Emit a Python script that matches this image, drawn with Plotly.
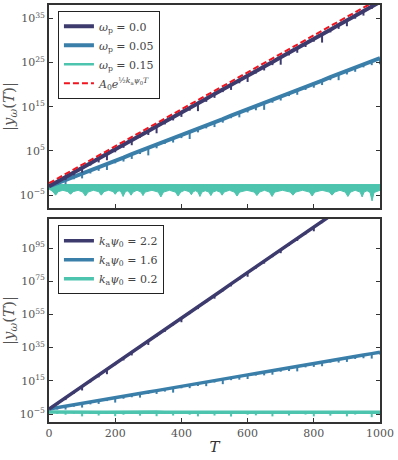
import plotly.graph_objects as go
import numpy as np

# time grid shared by the line series (T = 0, 25, ..., 1000)
T_grid = list(range(0, 1001, 25))

# ---- top panel: log10 |y_w(T)| for different omega_p ----
top_w00 = [-3.0, -2.0, -0.9, 0.1, 1.2, 2.2, 3.3, 4.3, 5.3, 6.4, 7.4, 8.5, 9.5, 10.6,
           11.6, 12.6, 13.7, 14.7, 15.8, 16.8, 17.9, 18.9, 19.9, 21.0, 22.0, 23.1,
           24.1, 25.1, 26.2, 27.2, 28.3, 29.3, 30.4, 31.4, 32.4, 33.5, 34.5, 35.6,
           36.6, 37.7, 38.7]
top_w00_dip = [0, 0.4, 0.7, 0.6, 1.1, 0.5, 0.9, 1.4, 0.6, 0.7, 1.1, 0.5, 0.9, 1.6,
               0.6, 0.7, 1.0, 0.6, 1.8, 0.7, 0.9, 0.6, 1.1, 0.7, 1.4, 0.6, 0.9, 0.7,
               1.7, 0.6, 1.1, 0.8, 0.7, 1.9, 0.6, 0.9, 1.3, 0.7, 1.0, 0.6, 0.7]

top_w05 = [-3.0, -2.3, -1.6, -0.8, -0.1, 0.6, 1.4, 2.1, 2.8, 3.5, 4.3, 5.0, 5.7, 6.4,
           7.2, 7.9, 8.6, 9.3, 10.1, 10.8, 11.5, 12.2, 13.0, 13.7, 14.4, 15.1, 15.9,
           16.6, 17.3, 18.0, 18.8, 19.5, 20.2, 20.9, 21.7, 22.4, 23.1, 23.8, 24.6,
           25.3, 26.0]
top_w05_dip = [0, 0.4, 0.9, 0.6, 1.1, 0.7, 0.9, 1.4, 0.6, 0.9, 1.1, 0.7, 1.7, 0.8,
               0.6, 1.0, 0.7, 1.6, 0.9, 0.7, 1.1, 0.8, 0.6, 1.1, 0.7, 0.9, 1.6, 0.7,
               0.9, 0.6, 1.1, 0.7, 0.9, 1.0, 0.7, 1.4, 0.8, 0.9, 0.7, 0.9, 1.4]

# omega_p = 0.15 stays bounded: flat upper edge, scalloped lower edge
top_w15_upper_T = [0, 1000]
top_w15_upper = [-2.6, -2.6]
top_w15_lower_T = [0, 12, 20, 28, 42, 57, 65, 73, 88, 102, 110, 118, 134, 150, 158,
                   166, 180, 194, 200, 206, 212, 218, 224, 230, 236, 242, 248, 254,
                   266, 278, 284, 290, 311, 330, 338, 346, 364, 382, 390, 398, 410,
                   424, 430, 436, 443, 450, 456, 462, 472, 483, 489, 495, 506, 517,
                   523, 529, 545, 560, 568, 576, 598, 620, 628, 636, 651, 666, 674,
                   682, 705, 729, 737, 745, 766, 787, 795, 803, 825, 847, 855, 863,
                   879, 895, 903, 911, 925, 940, 946, 952, 961, 970, 976, 982, 1000]
top_w15_lower = [-3.6, -4.2, -5.0, -4.2, -3.9, -4.2, -4.8, -4.2, -3.9, -4.3, -5.2,
                 -4.3, -3.9, -4.2, -5.0, -4.2, -3.9, -4.2, -4.8, -4.2, -4.0, -4.3,
                 -5.3, -4.3, -4.0, -4.3, -5.0, -4.3, -3.9, -4.3, -5.1, -4.3, -3.9,
                 -4.3, -5.4, -4.3, -3.9, -4.3, -5.2, -4.3, -3.9, -4.2, -4.9, -4.2,
                 -4.0, -4.3, -5.3, -4.3, -4.0, -4.3, -5.1, -4.3, -4.0, -4.3, -5.0,
                 -4.3, -3.9, -4.3, -5.2, -4.3, -3.9, -4.3, -5.1, -4.3, -3.9, -4.3,
                 -5.3, -4.3, -3.9, -4.3, -5.0, -4.3, -3.9, -4.3, -5.2, -4.3, -3.9,
                 -4.3, -5.0, -4.3, -3.9, -4.3, -5.3, -4.3, -3.9, -4.3, -5.4, -4.3,
                 -4.0, -4.4, -6.3, -4.4, -3.9]

# analytic growth A0 exp(k_a psi0 T / 2)
fit_T = [0, 1000]
fit_log = [-2.3, 39.5]

# ---- bottom panel: different k_a psi0 ----
bot_k22 = [-2.0, 1.4, 4.9, 8.3, 11.7, 15.1, 18.6, 22.0, 25.4, 28.8, 32.3, 35.7, 39.1,
           42.5, 46.0, 49.4, 52.8, 56.2, 59.7, 63.1, 66.5, 69.9, 73.4, 76.8, 80.2,
           83.6, 87.1, 90.5, 93.9, 97.3, 100.8, 104.2, 107.6, 111.0, 114.5, 117.9,
           121.3, 124.7, 128.2, 131.6, 135.0]
bot_k22_dip = [0, 1, 1.5, 1, 2.5, 1, 1.5, 3, 1, 1.5, 2, 1, 2.5, 1, 1.5, 1, 2.5, 1,
               1.5, 1, 2, 1, 1.5, 1, 2.5, 1, 1.5, 1, 2, 1, 1.5, 1, 2.5, 1, 1.5, 1,
               1.5, 1, 1.5, 1, 1.5]

bot_k16 = [-2.0, -1.1, -0.3, 0.6, 1.4, 2.3, 3.1, 4.0, 4.9, 5.7, 6.6, 7.4, 8.3, 9.1,
           10.0, 10.9, 11.7, 12.6, 13.4, 14.3, 15.2, 16.0, 16.9, 17.7, 18.6, 19.4,
           20.3, 21.2, 22.0, 22.9, 23.7, 24.6, 25.4, 26.3, 27.2, 28.0, 28.9, 29.7,
           30.6, 31.4, 32.3]
bot_k16_dip = [0, 1.2, 2, 1.2, 2.5, 1.5, 2, 1.2, 3, 1.5, 1.5, 2.5, 1.2, 2, 1.5, 3,
               1.2, 2, 1.5, 2.5, 1.2, 3, 1.5, 2, 2.5, 1.2, 2, 2.5, 1.5, 2, 3, 1.5, 2,
               2.5, 1.2, 2, 2.5, 1.5, 2, 3, 1.5]

bot_k02 = [-3.8, -3.9, -3.9, -3.8, -3.9, -4.0, -3.9, -3.9, -3.8, -3.9, -3.9, -4.0,
           -3.9, -3.8, -3.9, -3.9, -4.0, -3.9, -3.9, -3.8, -3.9, -3.9, -4.0, -3.9,
           -3.9, -3.8, -3.9, -3.9, -4.0, -3.9, -3.9, -3.8, -3.9, -3.9, -4.0, -3.9,
           -3.9, -3.8, -3.9, -3.9, -3.9]
bot_k02_dip = [0, 1, 1.5, 1, 2.5, 1, 2, 1, 2.5, 1.5, 1, 2, 1, 2.5, 1, 2, 1, 1.5, 2.5,
               1, 2, 1, 2.5, 1, 1.5, 2, 1, 2.5, 1, 2, 1, 1.5, 2.5, 1, 2, 1, 2.5, 1.5,
               1, 3, 1.5]

top_ticks = [-5, 5, 15, 25, 35]
bot_ticks = [-5, 15, 35, 55, 75, 95]
x_ticks = [0, 200, 400, 600, 800, 1000]

DARK = '#3d3a6e'
MID = '#3a7eaa'
TEAL = '#4cc4ae'
RED = '#f0141e'
FRAME = '#333333'
TXT = '#555555'
FONT = 'DejaVu Serif'


def pw(v):
    return [10.0 ** a for a in v]


def add_series(fig, vals, dips, color, name, yaxis, legend, rank, width=4):
    xa = 'x' if yaxis == 'y' else 'x2'
    fig.add_trace(go.Scatter(x=T_grid, y=pw(vals), mode='lines', name=name,
                             line=dict(color=color, width=width),
                             xaxis=xa, yaxis=yaxis, legend=legend, legendrank=rank))
    dx, dy = [], []
    for t, v, d in zip(T_grid, vals, dips):
        if d > 0:
            dx += [t, t, None]
            dy += [10.0 ** v, 10.0 ** (v - d), None]
    fig.add_trace(go.Scatter(x=dx, y=dy, mode='lines', showlegend=False,
                             line=dict(color=color, width=2),
                             xaxis=xa, yaxis=yaxis))


fig = go.Figure()

# top panel
fig.add_trace(go.Scatter(x=top_w15_upper_T, y=pw(top_w15_upper), mode='lines',
                         line=dict(color=TEAL, width=1), showlegend=False,
                         xaxis='x', yaxis='y'))
fig.add_trace(go.Scatter(x=top_w15_lower_T, y=pw(top_w15_lower), mode='lines',
                         line=dict(color=TEAL, width=1), fill='tonexty',
                         fillcolor=TEAL, showlegend=False, xaxis='x', yaxis='y'))
fig.add_trace(go.Scatter(x=[None], y=[None], mode='lines',
                         name='<i>ω</i><sub>p</sub> = 0.15',
                         line=dict(color=TEAL, width=2.5), xaxis='x', yaxis='y',
                         legend='legend', legendrank=3))
add_series(fig, top_w05, top_w05_dip, MID, '<i>ω</i><sub>p</sub> = 0.05', 'y', 'legend', 2)
add_series(fig, top_w00, top_w00_dip, DARK, '<i>ω</i><sub>p</sub> = 0.0', 'y', 'legend', 1)
fig.add_trace(go.Scatter(x=fit_T, y=pw(fit_log), mode='lines',
                         name='<i>A</i><sub>0</sub><i>e</i><sup>½<i>k</i><sub>a</sub><i>ψ</i><sub>0</sub><i>T</i></sup>',
                         line=dict(color=RED, width=2, dash='6px,3px'),
                         xaxis='x', yaxis='y', legend='legend', legendrank=4))

# bottom panel
add_series(fig, bot_k02, bot_k02_dip, TEAL, '<i>k</i><sub>a</sub><i>ψ</i><sub>0</sub> = 0.2', 'y2', 'legend2', 3, width=3.5)
add_series(fig, bot_k16, bot_k16_dip, MID, '<i>k</i><sub>a</sub><i>ψ</i><sub>0</sub> = 1.6', 'y2', 'legend2', 2, width=3.5)
add_series(fig, bot_k22, bot_k22_dip, DARK, '<i>k</i><sub>a</sub><i>ψ</i><sub>0</sub> = 2.2', 'y2', 'legend2', 1, width=3.5)

axis_common = dict(showline=True, linecolor=FRAME, linewidth=1.6, mirror=True,
                   ticks='inside', ticklen=4, tickwidth=1, tickcolor=FRAME,
                   showgrid=False, zeroline=False, automargin=False,
                   tickfont=dict(family=FONT, size=11, color=TXT))

ylab = '|<i>y</i><sub><i>ω</i></sub>(<i>T</i>)|'


def log_labels(ticks):
    return ['10<sup>%s</sup>' % str(t).replace('-', '−') for t in ticks]


leg_style = dict(xanchor='left', yanchor='top', bgcolor='white',
                 bordercolor='#222', borderwidth=1, traceorder='normal',
                 font=dict(family=FONT, size=11, color='#444'),
                 tracegroupgap=0, itemwidth=30)

fig.update_layout(
    width=398, height=460,
    paper_bgcolor='white', plot_bgcolor='white',
    margin=dict(l=49, r=18, t=5, b=38),
    font=dict(family=FONT, color=TXT),
    xaxis=dict(axis_common, domain=[0, 1], anchor='y', range=[0, 1000],
               tickvals=x_ticks, showticklabels=False),
    yaxis=dict(axis_common, domain=[214 / 417, 1], anchor='x', type='log',
               range=[-7.9, 38.0], mirror='ticks',
               tickvals=pw(top_ticks), ticktext=log_labels(top_ticks),
               title=dict(text=ylab, font=dict(family=FONT, size=15, color=TXT), standoff=4)),
    xaxis2=dict(axis_common, domain=[0, 1], anchor='y2', range=[0, 1000],
                tickvals=x_ticks,
                title=dict(text='<i>T</i>', font=dict(family=FONT, size=15, color='#333'), standoff=2)),
    yaxis2=dict(axis_common, domain=[0, 203 / 417], anchor='x2', type='log',
                range=[-9.8, 112.5], mirror='ticks',
                tickvals=pw(bot_ticks), ticktext=log_labels(bot_ticks),
                title=dict(text=ylab, font=dict(family=FONT, size=15, color=TXT), standoff=4)),
    legend=dict(leg_style, x=0.027, y=0.986),
    legend2=dict(leg_style, x=0.027, y=0.472),
)

fig.write_html("out.html", config={'displayModeBar': False},
               post_script="document.body.style.margin='0';")
